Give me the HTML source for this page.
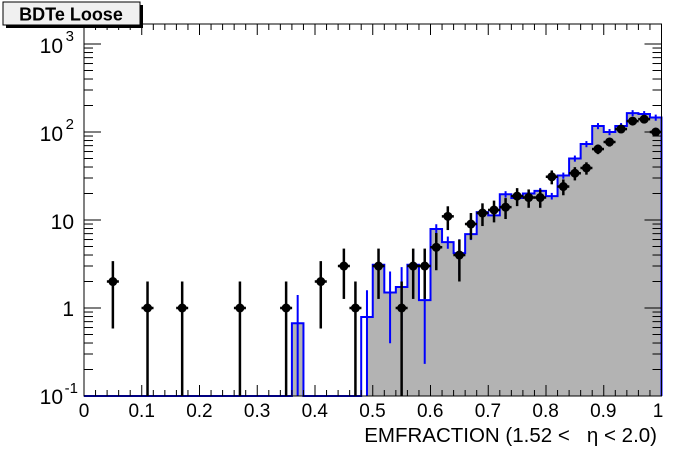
<!DOCTYPE html>
<html><head><meta charset="utf-8"><style>
html,body{margin:0;padding:0;background:#fff;}
svg{display:block;font-family:"Liberation Sans",Arial,sans-serif;}
</style></head><body>
<svg id="s" width="696" height="472" viewBox="0 0 696 472" xmlns="http://www.w3.org/2000/svg">
<rect x="0" y="0" width="696" height="472" fill="#fff"/>
<g id="hist"></g>
<g id="pts"></g>
<g id="axes" stroke="#000" stroke-width="1" fill="none"></g>
<rect x="84" y="24" width="577.5" height="372" fill="none" stroke="#000" stroke-width="1"/>
<g font-size="19" fill="#000" text-anchor="middle">
<text x="84" y="417">0</text>
<text x="141.7" y="417">0.1</text>
<text x="199.4" y="417">0.2</text>
<text x="257.1" y="417">0.3</text>
<text x="314.8" y="417">0.4</text>
<text x="372.5" y="417">0.5</text>
<text x="430.2" y="417">0.6</text>
<text x="487.9" y="417">0.7</text>
<text x="545.6" y="417">0.8</text>
<text x="603.3" y="417">0.9</text>
<text x="658" y="417">1</text>
</g>
<g font-size="21" fill="#000" text-anchor="end">
<text x="63" y="404">10</text><text x="78" y="393" font-size="15">-1</text>
<text x="74" y="316">1</text>
<text x="74" y="229">10</text>
<text x="63" y="141">10</text><text x="74" y="129" font-size="15">2</text>
<text x="63" y="53">10</text><text x="74" y="41" font-size="15">3</text>
</g>
<text x="657" y="442" font-size="20.5" text-anchor="end" fill="#000" style="white-space:pre">EMFRACTION (1.52 &lt;   η &lt; 2.0)</text>
<rect x="6" y="5" width="137" height="23" fill="#000"/>
<rect x="3" y="2" width="137" height="23" fill="#f0f0f0" stroke="#000" stroke-width="1"/>
<text x="71" y="20.5" font-size="18" font-weight="bold" text-anchor="middle" fill="#000">BDTe Loose</text>
</svg>
<script>
var X0=84,W=577.5,YB=396,D=88;
function px(x){return X0+x*W;}
function py(v){var y=YB-(Math.log10(v)+1)*D;return Math.max(24,Math.min(YB,y));}
var ns="http://www.w3.org/2000/svg";
function el(p,t,a){var e=document.createElementNS(ns,t);for(var k in a)e.setAttribute(k,a[k]);p.appendChild(e);return e;}
var b=new Array(50).fill(0);
b[18]=0.67;b[24]=0.79;b[25]=3.1;b[26]=1.5;b[27]=1.73;b[28]=3.1;b[29]=1.23;b[30]=7.9;b[31]=5.6;b[32]=4.2;b[33]=6.9;
b[34]=12.3;b[35]=11.3;b[36]=19.6;b[37]=17.8;b[38]=20;b[39]=21.4;b[40]=18.7;b[41]=32;b[42]=50;b[43]=73;b[44]=117;
b[45]=100;b[46]=117;b[47]=164;b[48]=160;b[49]=146;
var h=document.getElementById('hist');
var fd="";
for(var i=0;i<50;i++){if(b[i]>0){var xa=px(i*0.02),xb=px((i+1)*0.02);if(i==24)xa=px(0.49);fd+="M"+xa+","+YB+"L"+xa+","+py(b[i])+"L"+xb+","+py(b[i])+"L"+xb+","+YB+"Z";}}
el(h,'path',{d:fd,fill:'#b3b3b3',stroke:'none'});
var d="M"+px(0)+","+YB;
for(var i=0;i<50;i++){var y=b[i]>0?py(b[i]):YB;var xa=px(i*0.02),xb=px((i+1)*0.02);d+="L"+xa+","+y+"L"+xb+","+y;}
d+="L"+px(1)+","+YB;
el(h,'path',{d:d,fill:'none',stroke:'#0000ff','stroke-width':2});
for(var i=0;i<50;i++){if(b[i]>0){var v=b[i],e=Math.sqrt(v)*0.75*(v<5?1.2:0.5);if(v>30)e=v*0.08;var lo=v-e;var xc=px(i*0.02+0.01);
el(h,'line',{x1:xc,x2:xc,y1:py(v+e),y2:lo>0?py(lo):YB,stroke:'#0000ff','stroke-width':2});}}
var pts=[[0.05,2],[0.11,1],[0.17,1],[0.27,1],[0.35,1],[0.41,2],[0.45,3],[0.47,1],[0.51,3],[0.55,1],[0.57,3],[0.59,3],
[0.61,4.9],[0.63,11],[0.65,4],[0.67,9],[0.69,12],[0.71,13],[0.73,14],[0.75,18.7],[0.77,18],[0.79,18],
[0.81,31],[0.83,24],[0.85,34],[0.87,39],[0.89,64],[0.91,77],[0.93,108],[0.95,133],[0.97,140],[0.99,100]];
var g=document.getElementById('pts');
pts.forEach(function(p){var x=px(p[0]),v=p[1],e=Math.sqrt(v),lo=v-e;
el(g,'line',{x1:x,x2:x,y1:py(v+e),y2:lo>0.1?py(lo):YB,stroke:'#000','stroke-width':2.5});
el(g,'line',{x1:x-6,x2:x+6,y1:py(v),y2:py(v),stroke:'#000','stroke-width':2.5});
el(g,'circle',{cx:x,cy:py(v),r:4.5,fill:'#000'});});
var a=document.getElementById('axes');
for(var i=0;i<=50;i++){var x=px(i*0.02),L=(i%5==0)?11:6;
el(a,'line',{x1:x,x2:x,y1:YB,y2:YB-L});el(a,'line',{x1:x,x2:x,y1:24,y2:24+L});}
for(var dd=-1;dd<=3;dd++){for(var m=1;m<=9;m++){var v=m*Math.pow(10,dd);var y=YB-(Math.log10(v)+1)*D;if(y<24)continue;var L=(m==1)?17:9;
el(a,'line',{x1:X0,x2:X0+L,y1:y,y2:y});el(a,'line',{x1:X0+W,x2:X0+W-L,y1:y,y2:y});}}
</script>
</body></html>
